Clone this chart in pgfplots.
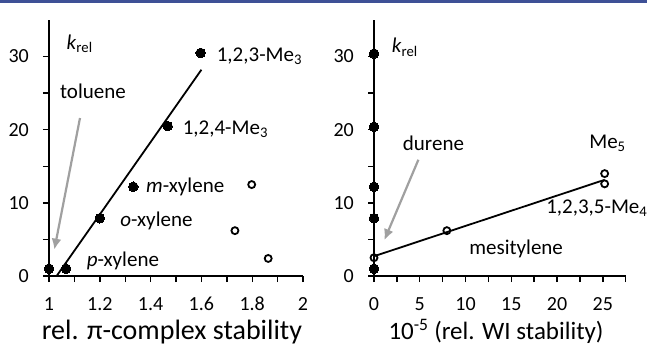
\documentclass[border=0pt]{standalone}
\usepackage{fontspec}
\setmainfont{Carlito}
\usepackage{pgfplots}
\pgfplotsset{compat=1.18}
\usetikzlibrary{arrows.meta}
\definecolor{topblue}{RGB}{62,80,150}
\definecolor{arrgray}{RGB}{160,160,160}
\newcommand\myfont{\fontsize{21}{25}\selectfont}
\newcommand\tickfont{\fontsize{20}{24}\selectfont}
\pgfplotsset{
  myaxis/.style={
    scale only axis,
    axis lines*=left,
    axis line style={line width=1.8pt},
    tick align=outside,
    major tick length=6pt,
    minor tick length=6pt,
    every tick/.style={line width=1.4pt,black},
    ymin=0, ymax=35,
    ytick={0,10,20,30},
    yticklabels={0,10,20,30},
    minor ytick={5,15,25},
    height=256pt,
    enlargelimits=false,
    clip=false,
    xticklabel style={font=\tickfont, anchor=base, inner sep=0pt, yshift=-28pt},
    yticklabel style={font=\tickfont, anchor=east, inner sep=0pt, xshift=-14pt},
    xlabel style={anchor=base},
    every axis plot/.append style={line width=1.8pt},
  },
  fillpt/.style={only marks, mark=*, mark size=4.8pt, mark options={fill=black, draw=black, line width=0pt}},
  openpt/.style={only marks, mark=o, mark size=3.5pt, mark options={draw=black, line width=1.8pt, fill=white}},
}
\begin{document}
\begin{tikzpicture}
\useasboundingbox (0,0) rectangle (647pt,346pt);
\fill[topblue] (0,343pt) rectangle (647pt,346pt);
% left panel
\begin{axis}[myaxis,
  at={(49pt,70pt)}, anchor=south west,
  width=254pt,
  xmin=1, xmax=2,
  xtick={1,1.2,1.4,1.6,1.8,2},
  xticklabels={1,1.2,1.4,1.6,1.8,2},
  minor xtick={1.1,1.3,1.5,1.7,1.9},
  xlabel={rel. π-complex stability},
  xlabel style={font=\fontsize{28}{32}\selectfont, at={(axis description cs:0.484,0)}, yshift=-63.5pt},
]
\addplot[black, line width=1.8pt] coordinates {(1.03,0) (1.6,28.2)};
\addplot[fillpt] coordinates {(1,1) (1.067,1) (1.2,7.9) (1.332,12.2) (1.467,20.5) (1.597,30.5)};
\addplot[openpt] coordinates {(1.732,6.2) (1.798,12.5) (1.863,2.4)};
\draw[arrgray, line width=2.2pt, -{Latex[length=11pt,width=10pt]}] (axis cs:1.122,21.6) -- (axis cs:1.021,3.6);
\node[anchor=base west, inner sep=0pt, font=\myfont] at (axis cs:1.069,31.0) {\textit{k}\textsubscript{rel}};
\node[anchor=base west, inner sep=0pt, font=\myfont] at (axis cs:1.043,24.3) {toluene};
\node[anchor=base west, inner sep=0pt, font=\myfont] at (axis cs:1.66,29.3) {1,2,3-Me\textsubscript{3}};
\node[anchor=base west, inner sep=0pt, font=\myfont] at (axis cs:1.526,19.3) {1,2,4-Me\textsubscript{3}};
\node[anchor=base west, inner sep=0pt, font=\myfont] at (axis cs:1.382,11.35) {\textit{m}-xylene};
\node[anchor=base west, inner sep=0pt, font=\myfont] at (axis cs:1.28,6.7) {\textit{o}-xylene};
\node[anchor=base west, inner sep=0pt, font=\myfont] at (axis cs:1.148,1.27) {\textit{p}-xylene};
\end{axis}
% right panel
\begin{axis}[myaxis,
  at={(374pt,70pt)}, anchor=south west,
  width=251.7pt,
  xmin=0, xmax=27.5,
  xtick={0,5,10,15,20,25},
  xticklabels={0,5,10,15,20,25},
  minor xtick={2.5,7.5,12.5,17.5,22.5,27.5},
  xlabel={10\textsuperscript{-5} (rel. WI stability)},
  xlabel style={font=\fontsize{25}{29}\selectfont, at={(axis description cs:0.485,0)}, yshift=-63.5pt},
]
\addplot[black, line width=1.8pt] coordinates {(0,2.7) (25.2,13.15)};
\addplot[fillpt] coordinates {(0,1) (0,7.9) (0,12.2) (0,20.4) (0,30.4)};
\addplot[openpt] coordinates {(0,2.5) (7.96,6.2) (25.2,12.6) (25.2,14.0)};
\draw[arrgray, line width=2.2pt, -{Latex[length=11pt,width=10pt]}] (axis cs:4.85,15.9) -- (axis cs:1.13,4.9);
\node[anchor=base west, inner sep=0pt, font=\myfont] at (axis cs:1.93,30.5) {\textit{k}\textsubscript{rel}};
\node[anchor=base west, inner sep=0pt, font=\myfont] at (axis cs:3.14,17.2) {durene};
\node[anchor=base west, inner sep=0pt, font=\myfont] at (axis cs:23.5,17.5) {Me\textsubscript{5}};
\node[anchor=base west, inner sep=0pt, font=\myfont] at (axis cs:18.8,8.6) {1,2,3,5-Me\textsubscript{4}};
\node[anchor=base west, inner sep=0pt, font=\myfont] at (axis cs:10.4,2.9) {mesitylene};
\end{axis}
\end{tikzpicture}
\end{document}
